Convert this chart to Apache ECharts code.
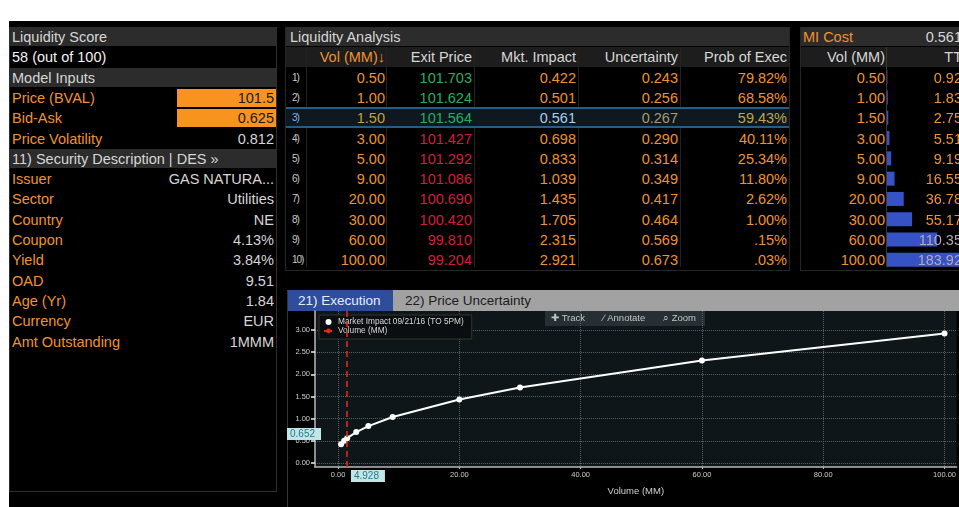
<!DOCTYPE html>
<html>
<head>
<meta charset="utf-8">
<script src="https://cdn.jsdelivr.net/npm/echarts@6/dist/echarts.min.js"></script>
<style>
  body { margin: 0; width: 959px; height: 507px; overflow: hidden; position: relative; background: #fff;
         font-family: "Liberation Sans", Arial, sans-serif; }
  .abs { position: absolute; white-space: nowrap; }
  .cell { position: absolute; white-space: nowrap; height: 20px; line-height: 20px; font-size: 14.5px; }
</style>
</head>
<body>
<div class="abs" style="left:9px;top:21px;width:950px;height:486px;background:#000"></div>
<div id="left"></div>
<div id="mid"></div>
<div id="mi"></div>
<div id="bars" class="abs" style="left:887px;top:67px;width:150px;height:203px;z-index:1"></div>
<div id="tabs"></div>
<div id="chart" class="abs" style="left:287px;top:290px;width:672px;height:217px"></div>
<script>
// left panel
var inputLabels = ['Price (BVAL)', 'Bid-Ask', 'Price Volatility']
var inputValues = ['101.5', '0.625', '0.812']
var descLabels = ['Issuer', 'Sector', 'Country', 'Coupon', 'Yield', 'OAD', 'Age (Yr)', 'Currency', 'Amt Outstanding']
var descValues = ['GAS NATURA...', 'Utilities', 'NE', '4.13%', '3.84%', '9.51', '1.84', 'EUR', '1MMM']

// liquidity analysis table
var headers = ['Vol (MM)\u2193', 'Exit Price', 'Mkt. Impact', 'Uncertainty', 'Prob of Exec']
var volumes = [0.5, 1, 1.5, 3, 5, 9, 20, 30, 60, 100]
var exitPrices = [101.703, 101.624, 101.564, 101.427, 101.292, 101.086, 100.690, 100.420, 99.810, 99.204]
var mktImpact = [0.422, 0.501, 0.561, 0.698, 0.833, 1.039, 1.435, 1.705, 2.315, 2.921]
var uncertainty = [0.243, 0.256, 0.267, 0.290, 0.314, 0.349, 0.417, 0.464, 0.569, 0.673]
var probExec = [79.82, 68.58, 59.43, 40.11, 25.34, 11.80, 2.62, 1.00, 0.15, 0.03]
var selectedRow = 2

// MI cost
var miCost = '0.561'
var ttCost = [0.92, 1.83, 2.75, 5.51, 9.19, 16.55, 36.78, 55.17, 110.35, 183.92]

// chart ticks
var xTicks = [0, 20, 40, 60, 80, 100]
var yTicks = [0, 0.5, 1, 1.5, 2, 2.5, 3]
var pointerVol = 4.928
var pointerImpact = 0.652

var RH = 20.3, TOP = 27
var ORANGE = '#ef932e', GREY = '#d6d6d6', HEAD = '#2c2c2c', SUB = '#1d1d1d'

function rowTop(i) { return TOP + RH * i }

function cell(parent, text, left, width, i, style) {
  var d = document.createElement('div')
  d.className = 'cell'
  d.textContent = text
  d.style.left = left + 'px'
  d.style.width = width + 'px'
  d.style.top = rowTop(i) + 'px'
  d.style.height = RH + 'px'
  d.style.lineHeight = RH + 'px'
  for (var k in (style || {})) d.style[k] = style[k]
  parent.appendChild(d)
  return d
}
function box(parent, left, top, w, h, css) {
  var d = document.createElement('div')
  d.className = 'abs'
  d.style.cssText += 'left:' + left + 'px;top:' + top + 'px;width:' + w + 'px;height:' + h + 'px;' + css
  parent.appendChild(d)
  return d
}
function fmtProb(p) {
  var s = p.toFixed(2) + '%'
  return p < 1 ? s.replace(/^0/, '') : s
}

// ---- left panel
var L = document.getElementById('left')
box(L, 9, 27, 268, 465, 'border:1px solid #2f2f2f;box-sizing:border-box')
var r = 0
box(L, 10, rowTop(r), 266, RH - 1, 'background:' + HEAD)
cell(L, 'Liquidity Score', 12, 200, r++, { color: GREY })
cell(L, '58 (out of 100)', 12, 200, r++, { color: '#f2f2f2' })
box(L, 10, rowTop(r), 266, RH - 1, 'background:' + HEAD)
cell(L, 'Model Inputs', 12, 200, r++, { color: GREY })
inputLabels.forEach(function (lab, i) {
  cell(L, lab, 12, 160, r, { color: ORANGE })
  if (i < 2) {
    box(L, 177, rowTop(r) + 1, 99, RH - 2, 'background:#f7931e')
    cell(L, inputValues[i], 177, 97, r, { color: '#1b1b1b', textAlign: 'right' })
  } else {
    cell(L, inputValues[i], 177, 97, r, { color: GREY, textAlign: 'right' })
  }
  r++
})
box(L, 10, rowTop(r), 266, RH - 1, 'background:' + HEAD)
cell(L, '11) Security Description | DES \u00bb', 12, 260, r++, { color: GREY })
descLabels.forEach(function (lab, i) {
  cell(L, lab, 12, 160, r, { color: ORANGE })
  cell(L, descValues[i], 140, 134, r, { color: GREY, textAlign: 'right' })
  r++
})

// ---- liquidity analysis
var M = document.getElementById('mid')
box(M, 285, 27, 505, 244, 'border:1px solid #262626;box-sizing:border-box')
box(M, 286, rowTop(0), 503, RH - 1, 'background:' + HEAD)
cell(M, 'Liquidity Analysis', 290, 200, 0, { color: GREY })
box(M, 286, rowTop(1), 503, RH - 1, 'background:' + SUB)
var colL = [307, 387, 475, 579, 681]
var colR = [385, 472, 576, 678, 787]
headers.forEach(function (h, j) {
  cell(M, h, colL[j], colR[j] - colL[j], 1, { color: j === 0 ? ORANGE : GREY, textAlign: 'right' })
})
;[306, 386, 474, 578, 680].forEach(function (x) {
  box(M, x, rowTop(1), 1, RH * 11 - 4, 'background:#222')
})
box(M, 286, rowTop(2 + selectedRow) - 1, 503, RH + 1,
  'background:#0d1820;border-top:2px solid #245d86;border-bottom:2px solid #245d86;box-sizing:border-box')
volumes.forEach(function (v, i) {
  var sel = i === selectedRow
  var row = 2 + i
  cell(M, (i + 1) + ')', 292, 20, row, { color: sel ? '#7fb2e6' : '#c9c9c9', fontSize: '10px', letterSpacing: '-1px' })
  cell(M, v.toFixed(2), colL[0], colR[0] - colL[0], row, { color: sel ? '#c2a23e' : ORANGE, textAlign: 'right' })
  cell(M, exitPrices[i].toFixed(3), colL[1], colR[1] - colL[1], row,
    { color: exitPrices[i] > 101.5 ? '#25b061' : '#d61c3d', textAlign: 'right' })
  cell(M, mktImpact[i].toFixed(3), colL[2], colR[2] - colL[2], row, { color: sel ? '#a8d0ef' : ORANGE, textAlign: 'right' })
  cell(M, uncertainty[i].toFixed(3), colL[3], colR[3] - colL[3], row, { color: sel ? '#a39e6c' : ORANGE, textAlign: 'right' })
  cell(M, fmtProb(probExec[i]), colL[4], colR[4] - colL[4], row, { color: sel ? '#bda552' : ORANGE, textAlign: 'right' })
})

// ---- MI cost
var I = document.getElementById('mi')
box(I, 800, 27, 170, 244, 'border:1px solid #262626;box-sizing:border-box')
box(I, 801, rowTop(0), 170, RH - 1, 'background:' + HEAD)
cell(I, 'MI Cost', 803, 80, 0, { color: ORANGE })
cell(I, miCost, 890, 72, 0, { color: GREY, textAlign: 'right' })
box(I, 801, rowTop(1), 170, RH - 1, 'background:' + SUB)
cell(I, 'Vol (MM)', 805, 80, 1, { color: GREY, textAlign: 'right' })
cell(I, 'TT', 890, 72, 1, { color: GREY, textAlign: 'right' })
box(I, 886, rowTop(1), 1, RH * 11 - 4, 'background:#3a3a3a')
volumes.forEach(function (v, i) {
  cell(I, v.toFixed(2), 805, 80, 2 + i, { color: ORANGE, textAlign: 'right' })
  cell(I, ttCost[i].toFixed(2), 890, 72, 2 + i, { color: ttCost[i] > 100 ? '#b9a7b8' : ORANGE, textAlign: 'right', zIndex: 2 })
})

var bars = echarts.init(document.getElementById('bars'))
bars.setOption({
  animation: false,
  grid: { left: 0, right: 0, top: 0, bottom: 0 },
  xAxis: { type: 'value', min: 0, max: 330, show: false },
  yAxis: { type: 'category', data: volumes.map(function (v) { return v.toFixed(2) }), inverse: true, show: false },
  series: [{ type: 'bar', data: ttCost, barWidth: 14, itemStyle: { color: '#3553c4' } }]
})

// ---- tabs
var T = document.getElementById('tabs')
box(T, 287, 290, 672, 21, 'background:#a2a2a2')
box(T, 287, 290, 106, 21, 'background:#2e4d9c')
box(T, 287, 291, 1, 216, 'background:#333')
var t1 = box(T, 298, 290, 95, 21, 'color:#e6ecff;font-size:13.5px;line-height:21px')
t1.textContent = '21) Execution'
var t2 = box(T, 405, 290, 300, 21, 'color:#1c1c1c;font-size:13.5px;line-height:21px')
t2.textContent = '22) Price Uncertainty'

// ---- execution chart
var chart = echarts.init(document.getElementById('chart'))
var pointerLabel = {
  show: true, backgroundColor: '#c3e5e8', color: '#1f7d88', fontSize: 10, padding: [1, 6, 1, 3], borderRadius: 0
}
chart.setOption({
  animation: false,
  textStyle: { fontFamily: 'Liberation Sans' },
  grid: { left: 28, right: 0, top: 21, bottom: 40, show: true, backgroundColor: '#0f1619', borderWidth: 0 },
  legend: {
    orient: 'vertical', left: 32, top: 25, itemGap: 1, itemWidth: 9, itemHeight: 6,
    backgroundColor: '#0a0e10', borderColor: '#333', borderWidth: 1, padding: [3, 8, 4, 4],
    textStyle: { color: '#d8d8d8', fontSize: 8.3 },
    data: [{ name: 'Market Impact 09/21/16 (TO 5PM)', icon: 'circle' }, { name: 'Volume (MM)' }]
  },
  xAxis: {
    type: 'value', min: -3.8, max: 102,
    name: 'Volume (MM)', nameLocation: 'middle', nameGap: 19,
    nameTextStyle: { color: '#cfcfcf', fontSize: 9.5 },
    axisLine: { onZero: false, lineStyle: { color: '#b8b8b8', width: 1.5 } },
    axisTick: { customValues: xTicks, length: 2, lineStyle: { color: '#bbb' } },
    axisLabel: { customValues: xTicks, color: '#cfcfcf', fontSize: 7.5, margin: 4,
      formatter: function (v) { return v.toFixed(2) } },
    splitLine: { show: true, lineStyle: { color: '#56625f', type: 'dotted' } },
    axisPointer: { show: true, value: pointerVol, status: 'show', lineStyle: { opacity: 0 },
      label: Object.assign({ formatter: function (p) { return Number(p.value).toFixed(3) } }, pointerLabel) }
  },
  yAxis: {
    type: 'value', min: -0.09, max: 3.43,
    axisLine: { show: true, onZero: false, lineStyle: { color: '#b8b8b8', width: 1.5 } },
    axisTick: { show: true, customValues: yTicks, length: 4, lineStyle: { color: '#eee', width: 1.5 } },
    axisLabel: { customValues: yTicks, color: '#cfcfcf', fontSize: 7.5, margin: 5,
      formatter: function (v) { return v.toFixed(2) } },
    splitLine: { show: true, lineStyle: { color: '#56625f', type: 'dotted' } },
    axisPointer: { show: true, value: pointerImpact, status: 'show', lineStyle: { opacity: 0 },
      label: Object.assign({ formatter: function (p) { return Number(p.value).toFixed(3) } }, pointerLabel) }
  },
  graphic: [
    { type: 'rect', shape: { x: 258, y: 21, width: 160, height: 15 }, style: { fill: '#263034' } },
    { type: 'text', x: 264, y: 28.5, style: { text: '\u271a Track', fill: '#c4c4c4', fontSize: 9.5, verticalAlign: 'middle' } },
    { type: 'text', x: 316, y: 28.5, style: { text: '\u2215 Annotate', fill: '#c4c4c4', fontSize: 9.5, verticalAlign: 'middle' } },
    { type: 'text', x: 376, y: 28.5, style: { text: '\u2315 Zoom', fill: '#c4c4c4', fontSize: 9.5, verticalAlign: 'middle' } }
  ],
  series: [
    {
      name: 'Market Impact 09/21/16 (TO 5PM)', type: 'line', z: 3,
      data: volumes.map(function (v, i) { return [v, mktImpact[i]] }),
      symbol: 'circle', symbolSize: 6, color: '#ffffff',
      lineStyle: { color: '#ffffff', width: 2 }
    },
    {
      name: 'Volume (MM)', type: 'line', color: '#e2261c',
      data: [[volumes[selectedRow], mktImpact[selectedRow]]], symbol: 'none',
      lineStyle: { type: 'dashed', width: 1.6 },
      markLine: {
        silent: true, symbol: 'none', label: { show: false },
        lineStyle: { color: '#e2261c', type: [6, 4], width: 1.6 },
        data: [{ xAxis: volumes[selectedRow] }]
      }
    }
  ]
})
</script>
</body>
</html>
